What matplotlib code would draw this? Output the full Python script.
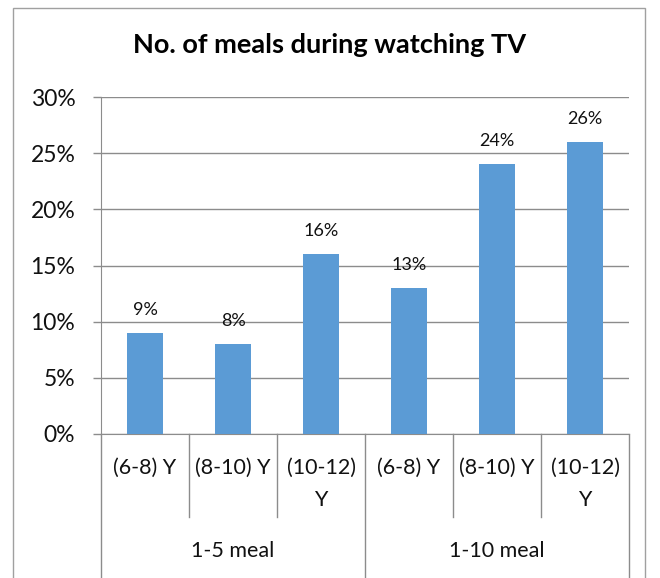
import matplotlib.pyplot as plt
from matplotlib.patches import Rectangle
from matplotlib.ticker import FuncFormatter

plt.rcParams['font.family'] = ['Lato', 'DejaVu Sans']

age_labels = ["(6-8) Y", "(8-10) Y", "(10-12)\nY", "(6-8) Y", "(8-10) Y", "(10-12)\nY"]
group_labels = ["1-5 meal", "1-10 meal"]
values = [9, 8, 16, 13, 24, 26]
value_labels = ["9%", "8%", "16%", "13%", "24%", "26%"]

W, H = 660, 578
fig = plt.figure(figsize=(W / 100, H / 100), dpi=100)

# axes placed in pixel coordinates of the reference
x0, x1, ytop, ybot = 101, 629, 97, 434
ax = fig.add_axes([x0 / W, (H - ybot) / H, (x1 - x0) / W, (ybot - ytop) / H])

grid_col = "#8c8c8c"
bar_col = "#5b9bd5"

xs = list(range(len(values)))
bars = ax.bar(xs, values, width=0.4, color=bar_col, zorder=3)
for b, lab in zip(bars, value_labels):
    ax.annotate(lab, (b.get_x() + b.get_width() / 2, b.get_height()),
                xytext=(0, 13), textcoords="offset points",
                ha="center", va="baseline", fontsize=13, color="#111111")

ax.set_xlim(-0.5, len(values) - 0.5)
ax.set_ylim(0, 30)
ax.set_yticks(range(0, 31, 5))
ax.yaxis.set_major_formatter(FuncFormatter(lambda v, p: f"{v:.0f}%"))
ax.yaxis.grid(True, color=grid_col, linewidth=1)
ax.set_axisbelow(True)
ax.tick_params(axis="y", length=5.5, width=1, color=grid_col, pad=13,
               labelsize=16.5, labelcolor="#111111")

for s in ["top", "right"]:
    ax.spines[s].set_visible(False)
ax.spines["left"].set_color(grid_col)
ax.spines["bottom"].set_color(grid_col)

ax.set_xticks(xs)
ax.set_xticklabels(age_labels, fontsize=15.5, linespacing=1.75, color="#111111")
ax.tick_params(axis="x", length=0, pad=17)

# category dividers below the axis
tr = ax.get_xaxis_transform()
for i in range(len(values) + 1):
    xd = i - 0.5
    if i % 3 == 0:
        yb = -0.5
    else:
        yb = -(517 - ybot) / (ybot - ytop)
    ax.plot([xd, xd], [0, yb], color=grid_col, lw=1, transform=tr, clip_on=False)

for g, lab in enumerate(group_labels):
    ax.text(g * 3 + 1, -(551 - ybot) / (ybot - ytop), lab, transform=tr,
            ha="center", va="center", fontsize=15.5, color="#111111")

fig.text(330 / W, 1 - 53 / H, "No. of meals during watching TV",
         ha="center", va="baseline", fontsize=19.5, fontweight="bold")

fig.patches.append(Rectangle((13 / W, -0.05), (645 - 13) / W, 1.05 - 8 / H,
                             transform=fig.transFigure, fill=False,
                             edgecolor="#a0a0a0", lw=1))

fig.savefig("out.png", dpi=100)
